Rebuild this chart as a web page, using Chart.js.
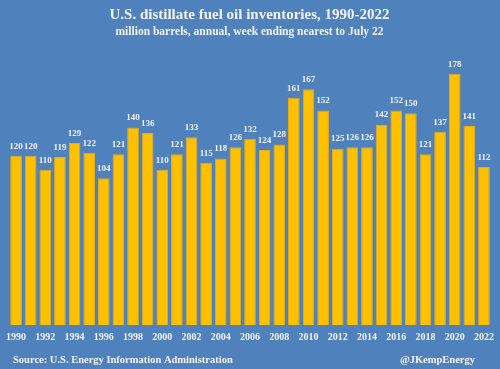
<!DOCTYPE html>
<html>
<head>
<meta charset="utf-8">
<script src="https://cdn.jsdelivr.net/npm/chart.js@4"></script>
<style>
  html, body { margin: 0; padding: 0; background: #4f81bd; }
  #wrap { width: 500px; height: 369px; }
</style>
</head>
<body>
<div id="wrap"><canvas id="grafico" width="500" height="369"></canvas></div>
<script>
var anos = ['1990','1991','1992','1993','1994','1995','1996','1997','1998','1999',
  '2000','2001','2002','2003','2004','2005','2006','2007','2008','2009',
  '2010','2011','2012','2013','2014','2015','2016','2017','2018','2019',
  '2020','2021','2022'];
var estoques = [120,120,110,119,129,122,104,121,140,136,
  110,121,133,115,118,126,132,124,128,161,
  167,152,125,126,126,142,152,150,121,137,
  178,141,112];
var titulo = 'U.S. distillate fuel oil inventories, 1990-2022';
var subtitulo = 'million barrels, annual, week ending nearest to July 22';
var fonte = 'Source: U.S. Energy Information Administration';
var autor = '@JKempEnergy';

var serif = "'Liberation Serif', 'DejaVu Serif', serif";
var textColor = '#f2f2f2';

// rotulos em cima das barras
var rotulos = {
  id: 'rotulos',
  afterDatasetsDraw: function(chart) {
    var ctx = chart.ctx;
    var meta = chart.getDatasetMeta(0);
    ctx.save();
    ctx.font = 'bold 9px ' + serif;
    ctx.fillStyle = textColor;
    ctx.textAlign = 'center';
    ctx.textBaseline = 'bottom';
    meta.data.forEach(function(bar, i) {
      ctx.fillText(estoques[i], bar.x, bar.y - 5);
    });
    ctx.restore();
  }
};

// rodape
var rodape = {
  id: 'rodape',
  afterDraw: function(chart) {
    var ctx = chart.ctx;
    ctx.save();
    ctx.font = 'bold 10.5px ' + serif;
    ctx.fillStyle = textColor;
    ctx.textBaseline = 'middle';
    ctx.textAlign = 'left';
    ctx.fillText(fonte, 13, 360);
    ctx.textAlign = 'right';
    ctx.fillText(autor, 475, 360);
    ctx.restore();
  }
};

var ctx = document.getElementById('grafico').getContext('2d');
new Chart(ctx, {
  type: 'bar',
  data: {
    labels: anos,
    datasets: [{
      data: estoques,
      backgroundColor: '#ffc000',
      borderColor: '#e6ac1a',
      borderWidth: 1,
      barPercentage: 0.8,
      categoryPercentage: 1.0
    }]
  },
  options: {
    responsive: false,
    animation: false,
    layout: { padding: { left: 6, right: 7, top: 6, bottom: 20 } },
    plugins: {
      legend: { display: false },
      tooltip: { enabled: false },
      title: {
        display: true,
        text: titulo,
        color: textColor,
        font: { family: serif, size: 15, weight: 'bold' },
        padding: { top: 0, bottom: 1 }
      },
      subtitle: {
        display: true,
        text: subtitulo,
        color: textColor,
        font: { family: serif, size: 11.5, weight: 'bold' },
        padding: { top: 0, bottom: 4 }
      }
    },
    scales: {
      x: {
        grid: { display: false, drawTicks: false },
        border: { display: false },
        ticks: {
          color: textColor,
          autoSkip: false,
          maxRotation: 0,
          padding: 6,
          font: { family: serif, size: 10, weight: 'bold' },
          callback: function(v, i) { return i % 2 === 0 ? anos[i] : ''; }
        }
      },
      y: {
        display: false,
        min: 0,
        max: 200
      }
    }
  },
  plugins: [rotulos, rodape]
});
</script>
</body>
</html>
